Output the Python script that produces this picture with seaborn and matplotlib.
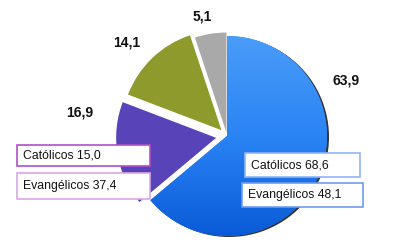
import matplotlib
matplotlib.use("Agg")
import matplotlib.pyplot as plt
import numpy as np
import seaborn as sns
from matplotlib.colors import LinearSegmentedColormap
from matplotlib.patches import Wedge

sns.set_theme(style="white")
plt.rcParams['font.family'] = ['Liberation Sans', 'DejaVu Sans']

# Data
categories = ["Católicos", "Evangélicos tradicionais", "Evangélicos pentecostais", "Outros"]
values = [63.9, 16.9, 14.1, 5.1]
value_labels = ["63,9", "16,9", "14,1", "5,1"]
colors = ["#2d87f5", "#5843b8", "#8e9a2b", "#a9a9a9"]
box_left = ["Católicos 15,0", "Evangélicos 37,4"]
box_right = ["Católicos 68,6", "Evangélicos 48,1"]

H = 249
fig = plt.figure(figsize=(4.0, 2.49), dpi=100)
ax = fig.add_axes([0, 0, 1, 1])

def Y(y):
    return H - y

cx, cy, r = 227, Y(136), 100
explode_frac = [0, 0.11, 0.08, 0.035]
wedges, _ = ax.pie(values, colors=colors, startangle=90, counterclock=False,
                   center=(cx, cy), radius=r, explode=[e * r for e in explode_frac],
                   wedgeprops=dict(linewidth=0), frame=True)

# shadow behind the big wedge
w0 = wedges[0]
sh = Wedge((cx + 2, cy - 1), r, w0.theta1, w0.theta2, facecolor="#333333", linewidth=0,
           zorder=w0.get_zorder() - 0.5)
ax.add_patch(sh)

# gradient on the big wedge
cmap = LinearSegmentedColormap.from_list("b", ["#4a9cf8", "#2a84f4", "#0a5ad8"])
grad = np.linspace(0, 1, 256).reshape(-1, 1)
im = ax.imshow(grad, extent=(cx - r, cx + r, cy - r, cy + r), cmap=cmap,
               aspect="auto", zorder=w0.get_zorder() + 0.1, origin="upper")
im.set_clip_path(w0)
ax.set_xlim(0, 400)
ax.set_ylim(0, H)
ax.axis("off")

# value labels
pos = [(346, 80), (80, 112), (127, 42), (202, 16)]
for (x, y), t in zip(pos, value_labels):
    ax.text(x, Y(y), t, fontsize=10, fontweight="bold", ha="center", va="center", color="#111111")

# boxes
def box(x, y, w, h, text, edge):
    ax.add_patch(plt.Rectangle((x, Y(y + h)), w, h, facecolor="white", edgecolor=edge, linewidth=1.2, zorder=5))
    ax.text(x + 6, Y(y + h / 2), text, fontsize=8.8, ha="left", va="center", color="#111111", zorder=6)

box(17, 145, 133, 21, box_left[0], "#b050c8")
box(17, 173, 133, 26, box_left[1], "#d9a8e6")
box(245, 153, 115, 24, box_right[0], "#8fb4f7")
box(242, 183, 121, 24, box_right[1], "#6f9cf2")

fig.savefig("out.png", dpi=100)
